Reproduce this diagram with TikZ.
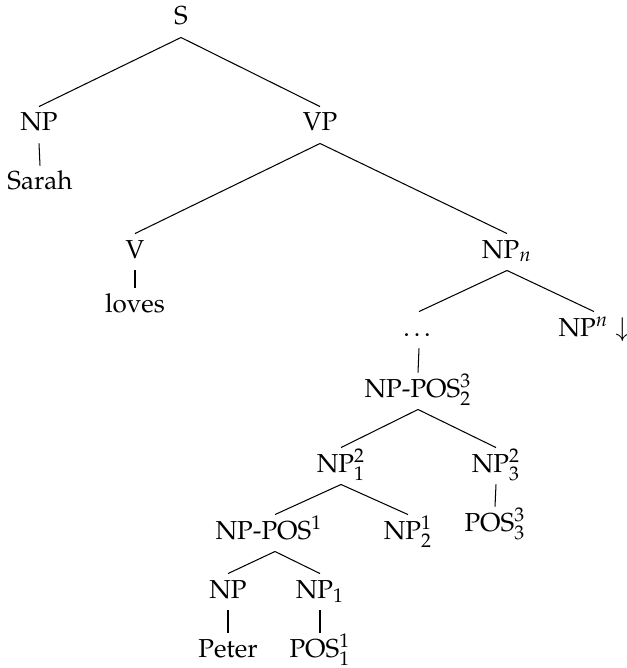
\documentclass[tikz,border=0pt]{standalone}
\usepackage[T1]{fontenc}
\usepackage{mathpazo}
\begin{document}
\begin{tikzpicture}[x=0.3846pt,y=-0.3846pt,
  tn/.style={anchor=base,inner sep=0pt,text height=9.2pt,text depth=4.6pt,font=\fontsize{10}{12}\selectfont},
  edge/.style={draw=black,line width=0.4pt}]
\useasboundingbox (0,0) rectangle (627,668);
\node[tn] (s) at (181,25) {S};
\node[tn] (np) at (39,131) {NP};
\node[tn] (sarah) at (40,190) {Sarah};
\node[tn] (vp) at (320,131) {VP};
\node[tn] (v) at (135,258) {V};
\node[tn] (loves) at (135,312) {loves};
\node[tn] (npn) at (507,258) {NP$_n$};
\node[tn] (dots) at (419,336) {\dots};
\node[tn] (npsup) at (594,336) {NP$^n$ $\downarrow$};
\node[tn] (nppos23) at (418,397) {NP-POS$^3_2$};
\node[tn] (np12) at (341,472) {NP$^2_1$};
\node[tn] (np32) at (496,472) {NP$^2_3$};
\node[tn] (pos33) at (495,531) {POS$^3_3$};
\node[tn] (nppos1) at (269,539) {NP-POS$^1$};
\node[tn] (np21) at (408,539) {NP$^1_2$};
\node[tn] (npb) at (228,598) {NP};
\node[tn] (np1) at (320,598) {NP$_1$};
\node[tn] (peter) at (228,657) {Peter};
\node[tn] (pos11) at (320,657) {POS$^1_1$};
\draw[edge] (s.south) -- (np.north);
\draw[edge] (s.south) -- (vp.north);
\draw[edge] (np.south) -- (sarah.north);
\draw[edge] (vp.south) -- (v.north);
\draw[edge] (vp.south) -- (npn.north);
\draw[edge] (v.south) -- (loves.north);
\draw[edge] (npn.south) -- (dots.north);
\draw[edge] (npn.south) -- (npsup.north);
\draw[edge] (dots.south) -- (nppos23.north);
\draw[edge] (nppos23.south) -- (np12.north);
\draw[edge] (nppos23.south) -- (np32.north);
\draw[edge] (np32.south) -- (pos33.north);
\draw[edge] (np12.south) -- ([xshift=2.3pt]nppos1.north);
\draw[edge] (np12.south) -- (np21.north);
\draw[edge] ([xshift=2.3pt]nppos1.south) -- (npb.north);
\draw[edge] ([xshift=2.3pt]nppos1.south) -- (np1.north);
\draw[edge] (npb.south) -- (peter.north);
\draw[edge] (np1.south) -- (pos11.north);
\end{tikzpicture}
\end{document}
